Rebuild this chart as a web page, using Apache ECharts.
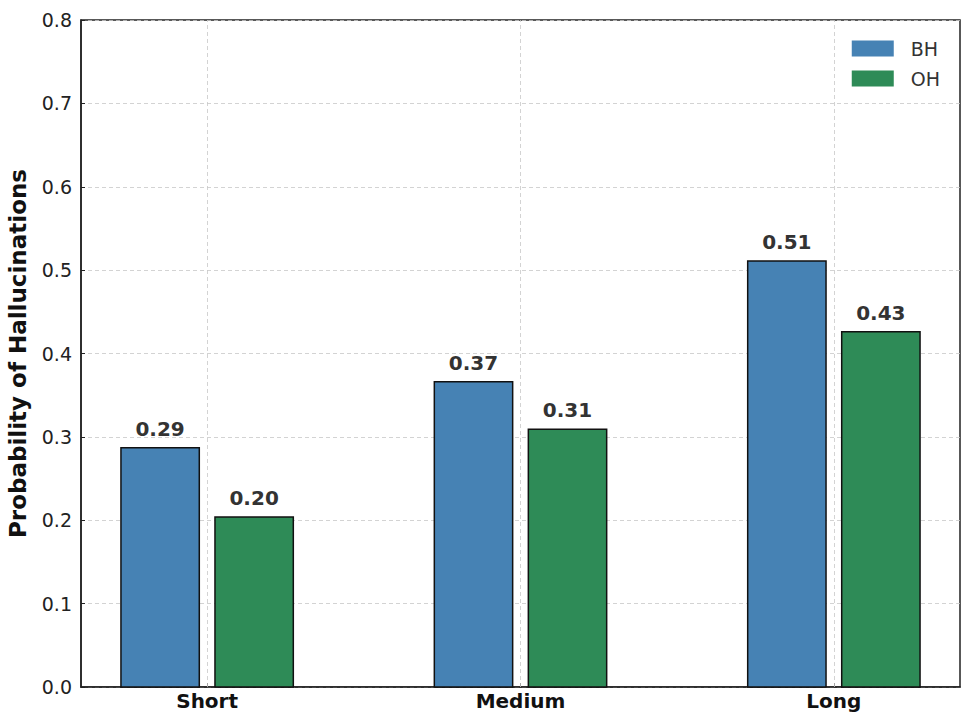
<!DOCTYPE html>
<html>
<head>
<meta charset="utf-8">
<script src="https://cdn.jsdelivr.net/npm/echarts@6/dist/echarts.min.js"></script>
<style>html,body{margin:0;padding:0;background:#fff;}#chart{width:972px;height:726px;}</style>
</head>
<body>
<div id="chart"></div>
<script>
const categories = ['Short', 'Medium', 'Long'];
const seriesNames = ['BH', 'OH'];
const bhValues = [0.287, 0.366, 0.511];
const ohValues = [0.204, 0.309, 0.426];
const yTicks = [0, 0.1, 0.2, 0.3, 0.4, 0.5, 0.6, 0.7, 0.8];
const colors = ['#4682B4', '#2E8B57'];

const BAR_W = 0.25;
const OFFSETS = [-0.15, 0.15];
const FONT = '"DejaVu Sans", sans-serif';

function makeSeries(name, values, idx) {
  return {
    name: name,
    type: 'custom',
    itemStyle: { color: colors[idx] },
    encode: { x: 0, y: 1 },
    data: values.map((v, i) => [i, v]),
    renderItem: function (params, api) {
      const x = api.value(0) + OFFSETS[idx];
      const v = api.value(1);
      const p0 = api.coord([x - BAR_W / 2, v]);
      const p1 = api.coord([x + BAR_W / 2, 0]);
      return {
        type: 'group',
        children: [
          {
            type: 'rect',
            shape: { x: p0[0], y: p0[1], width: p1[0] - p0[0], height: p1[1] - p0[1] },
            style: { fill: colors[idx], stroke: '#111', lineWidth: 1.5 }
          },
          {
            type: 'text',
            style: {
              text: v.toFixed(2),
              x: (p0[0] + p1[0]) / 2,
              y: p0[1] - 9,
              align: 'center',
              verticalAlign: 'bottom',
              fontFamily: FONT,
              fontWeight: 'bold',
              fontSize: 20,
              fill: '#333'
            }
          }
        ]
      };
    },
    markLine: idx === 0 ? {
      silent: true,
      symbol: 'none',
      label: { show: false },
      lineStyle: { color: '#c8c8c8', type: [4, 3], width: 0.8 },
      data: categories.map((c, i) => ({ xAxis: i }))
    } : undefined,
    z: 3
  };
}

const chart = echarts.init(document.getElementById('chart'), null, { renderer: 'svg' });
chart.setOption({
  animation: false,
  backgroundColor: '#fff',
  textStyle: { fontFamily: FONT },
  grid: {
    left: 81, right: 12, top: 20, bottom: 39,
    containLabel: false,
    outerBoundsMode: 'none',
    show: true, borderColor: '#222', borderWidth: 1.5, backgroundColor: 'transparent'
  },
  legend: {
    data: seriesNames.map((n, i) => ({ name: n, icon: 'rect', itemStyle: { color: colors[i], borderWidth: 0 } })),
    orient: 'vertical',
    right: 27, top: 34,
    itemWidth: 42, itemHeight: 16, itemGap: 11,
    textStyle: { fontFamily: FONT, fontSize: 19, color: '#333', padding: [0, 0, 0, 12] }
  },
  xAxis: {
    type: 'value',
    min: -0.4025,
    max: 2.4025,
    axisLine: { show: true, onZero: false, lineStyle: { color: '#222', width: 1.5 } },
    axisTick: { show: true, inside: true, length: 4, customValues: [0, 1, 2], lineStyle: { color: '#222' } },
    axisLabel: {
      customValues: [0, 1, 2],
      formatter: v => categories[Math.round(v)] || '',
      fontFamily: FONT, fontWeight: 'bold', fontSize: 20, color: '#111', margin: 4
    },
    splitLine: { show: false }
  },
  yAxis: {
    type: 'value',
    min: yTicks[0],
    max: yTicks[yTicks.length - 1],
    interval: 0.1,
    name: 'Probability of Hallucinations',
    nameLocation: 'middle',
    nameGap: 52,
    nameTextStyle: { fontFamily: FONT, fontWeight: 'bold', fontSize: 23, color: '#111' },
    axisLine: { show: true, onZero: false, lineStyle: { color: '#222', width: 1.5 } },
    axisTick: { show: true, inside: true, length: 4, lineStyle: { color: '#222' } },
    axisLabel: { formatter: v => v.toFixed(1), fontFamily: FONT, fontSize: 19, color: '#222', margin: 9 },
    splitLine: { show: true, lineStyle: { color: '#c8c8c8', type: [4, 3], width: 0.8 } }
  },
  series: [
    makeSeries(seriesNames[0], bhValues, 0),
    makeSeries(seriesNames[1], ohValues, 1)
  ]
});
</script>
</body>
</html>
